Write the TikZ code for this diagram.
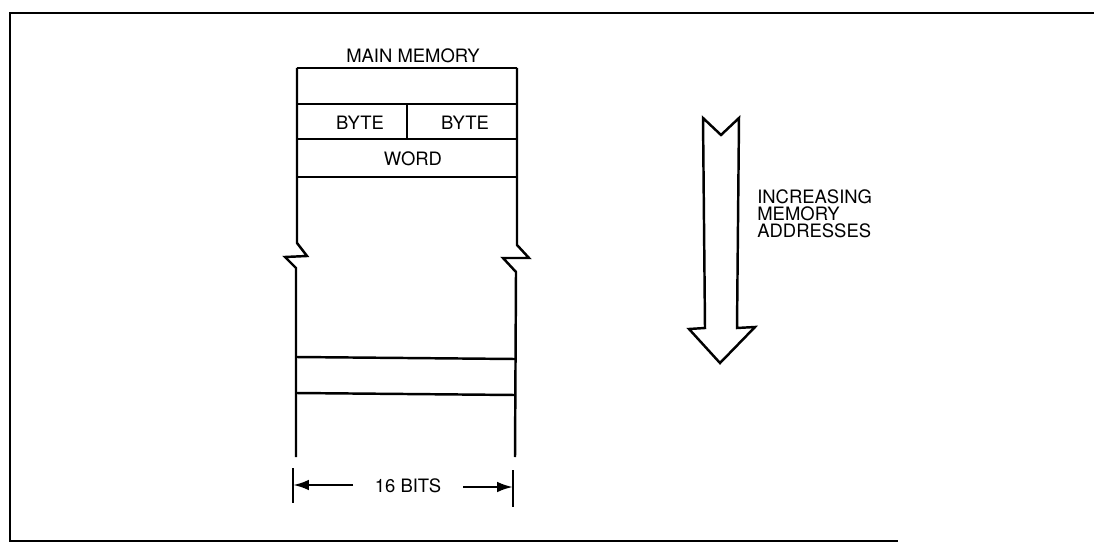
\documentclass[tikz,border=0pt]{standalone}
\usepackage{fontspec}
\setmainfont{TeX Gyre Heros}
\usepackage{tikz}
\usetikzlibrary{arrows.meta}

\tikzset{
  memline/.style={line width=1.4pt},
  lbl/.style={inner sep=0pt, font=\fontsize{10.5}{9.8}\selectfont}
}

\begin{document}
\begin{tikzpicture}[x=0.02cm,y=-0.02cm,line join=miter]
\useasboundingbox (0,0) rectangle (1094,550);
% frame (open on the right, as scanned)
\draw[line width=1.6pt] (1094,13) -- (10,13) -- (10,541) -- (898,541);

% memory block
\node[lbl] (mainlbl) at (413,56) {MAIN MEMORY};
\draw[memline] (297,68) -- (517,68);
\draw[memline] (297,104) -- (517,104);
\draw[memline] (297,139) -- (517,139);
\draw[memline] (297,177) -- (517,177);
\draw[memline] (407,104) -- (407,139);
\node[lbl] (bytea) at (360,123) {BYTE};
\node[lbl] (byteb) at (465,123) {BYTE};
\node[lbl] (word) at (413,159) {WORD};

% sides with break marks
\draw[memline] (297,68) -- (297,243) -- (307,256) -- (285,257) -- (296,268) -- (296,457);
\draw[memline] (517,68) -- (517,245) -- (529,258) -- (503,258) -- (516,272) -- (515,457);
\draw[memline] (296,357) -- (515,359);
\draw[memline] (296,393) -- (515,395);

% width dimension
\node[lbl] (bits) at (408,486) {16 BITS};
\draw[memline] (293,468) -- (293,503);
\draw[memline] (513,470) -- (513,507);
\coordinate (bitsla) at (353,485);
\coordinate (bitsl) at (293,485);
\coordinate (bitsra) at (463,487);
\coordinate (bitsr) at (513,487);
\draw[memline,-{Latex[length=9pt,width=6pt]}] (bitsla) -- (bitsl);
\draw[memline,-{Latex[length=9pt,width=6pt]}] (bitsra) -- (bitsr);

% hollow arrow
\draw[line width=1.4pt] (703,118) -- (721,135) -- (739,118) -- (737,328)
  -- (755,327) -- (720,363) -- (689,329) -- (705,328) -- cycle;
\node[lbl,align=left,anchor=north west] (incr) at (757,189)
  {INCREASING\\MEMORY\\ADDRESSES};
\end{tikzpicture}
\end{document}
